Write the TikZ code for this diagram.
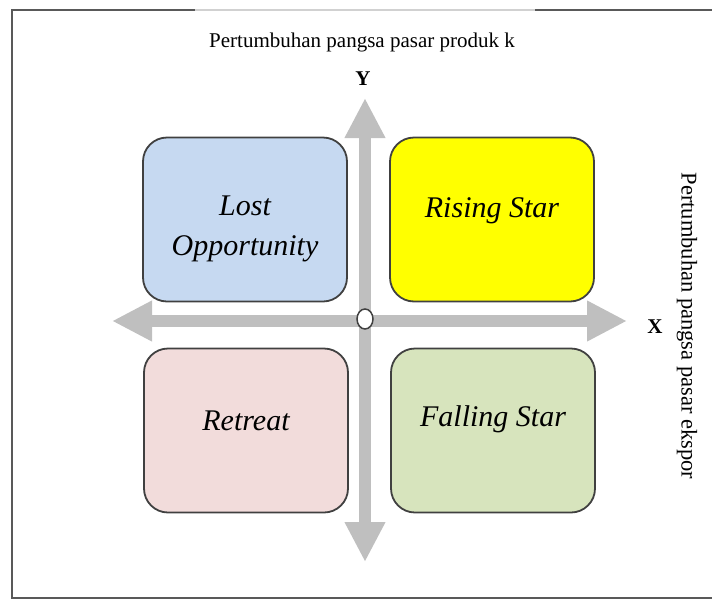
\documentclass[tikz,border=0pt]{standalone}
\usepackage{fontspec}
\setmainfont{Liberation Serif}
\usetikzlibrary{arrows.meta,shapes.geometric}
\definecolor{boxblue}{HTML}{C6D9F1}
\definecolor{boxyellow}{HTML}{FFFF00}
\definecolor{boxpink}{HTML}{F2DCDB}
\definecolor{boxgreen}{HTML}{D7E4BD}
\definecolor{axisgray}{HTML}{BFBFBF}
\definecolor{edgegray}{HTML}{404040}
\tikzset{
  quad/.style={draw=edgegray, line width=1.8pt, rounded corners=24pt, minimum width=204pt, minimum height=164pt, inner sep=0pt},
  quadtext/.style={inner sep=0pt, align=center, font=\fontsize{30}{40}\selectfont\itshape},
  axisline/.style={draw=axisgray, line width=12pt, {Triangle[width=38pt,length=40pt]}-{Triangle[width=38pt,length=40pt]}},
  lbl/.style={font=\fontsize{21}{24}\selectfont},
  sidelbl/.style={font=\fontsize{22.5}{26}\selectfont},
  axlbl/.style={font=\fontsize{21}{24}\selectfont\bfseries}
}
\begin{document}
\begin{tikzpicture}[x=1pt,y=-1pt]
\useasboundingbox (0,0) rectangle (712,600);
% frame
\draw[line width=2.5pt, draw=black!65] (712,10) -- (12,10) -- (12,598) -- (712,598);
\draw[line width=2.5pt, draw=black!18] (195,10) -- (535,10);
% boxes
\node[quad, fill=boxblue] (lost) at (245,219.5) {};
\node[quad, fill=boxyellow] (rising) at (492,219.5) {};
\node[quad, fill=boxpink] (retreat) at (246,430.5) {};
\node[quad, fill=boxgreen] (falling) at (493,430.5) {};
\node[quadtext] (losttext) at ([yshift=-9pt]lost.center) {Lost\\Opportunity};
\node[quadtext] (risingtext) at ([yshift=9pt]rising.center) {Rising Star};
\node[quadtext] (retreattext) at ([yshift=10pt]retreat.center) {Retreat};
\node[quadtext] (fallingtext) at ([yshift=11pt]falling.center) {Falling Star};
% axes
\coordinate (ytop) at (365,98);
\coordinate (ybot) at (365,562);
\coordinate (xleft) at (112,321);
\coordinate (xright) at (627,321);
\draw[axisline] (xleft) -- (xright);
\draw[axisline] (ybot) -- (ytop);
\node[draw=edgegray, line width=1.5pt, fill=white, ellipse, minimum width=16pt, minimum height=20pt, inner sep=0pt] (origin) at (365,319) {};
% labels
\node[axlbl] (ylab) at (363,79) {Y};
\node[axlbl] (xlab) at (655,327) {X};
\node[lbl] (toptext) at (362,42) {Pertumbuhan pangsa pasar produk k};
\node[sidelbl, rotate=-90] (righttext) at (687,326) {Pertumbuhan pangsa pasar ekspor};
\end{tikzpicture}
\end{document}
